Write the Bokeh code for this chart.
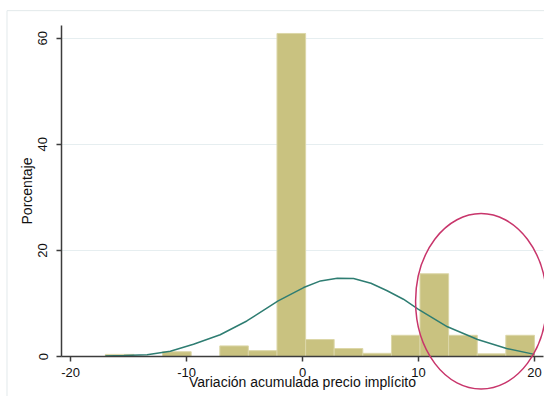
from bokeh.plotting import figure
from bokeh.models import Range1d
from bokeh.embed import file_html
from bokeh.resources import INLINE

bin_edges = [-17.0, -14.53, -12.07, -9.6, -7.13, -4.67, -2.2, 0.27,
             2.73, 5.2, 7.67, 10.13, 12.6, 15.07, 17.53, 20.0]
percent = [0.4, 0.0, 0.9, 0.0, 2.0, 1.1, 60.9, 3.2,
           1.5, 0.6, 4.0, 15.6, 4.0, 0.5, 4.0]

# normal density overlay
curve_x = [-17.0, -15.4, -13.4, -11.4, -9.4, -7.1, -4.8, -2.1, 0.1, 1.55,
           3.0, 4.4, 5.9, 7.3, 8.7, 10.0, 12.5, 15.1, 17.6, 20.0]
curve_y = [0.1, 0.2, 0.35, 1.0, 2.3, 4.1, 6.7, 10.5, 13.0, 14.25,
           14.76, 14.7, 13.8, 12.4, 10.8, 8.9, 5.6, 3.2, 1.5, 0.4]

# hand-drawn highlight ellipse (data units)
highlight_x = 15.4
highlight_y = 10.4
highlight_w = 11.3
highlight_h = 33.1

x_ticks = [-20, -10, 0, 10, 20]
y_ticks = [0, 20, 40, 60]

x_lo, x_hi = -20.78, 20.78
y_lo, y_hi = 0, 62.4

p = figure(width=544, height=396,
           x_range=Range1d(x_lo, x_hi), y_range=Range1d(y_lo, y_hi),
           output_backend="svg", toolbar_location=None,
           min_border_left=61, min_border_right=1,
           min_border_top=25, min_border_bottom=40)
p.outline_line_color = None

# faint graph-region border (Stata style), partly off the canvas
frame = p.quad(left=x_lo - 4.7, right=x_hi + 10, top=y_hi + 2.8, bottom=y_lo - 12,
               fill_alpha=0, line_color="#e2e9eb", line_width=1)
frame.level = "overlay"

p.quad(left=bin_edges[:-1], right=bin_edges[1:], bottom=0, top=percent,
       fill_color="#c9c280", line_color="#dcd7a8", line_width=1)
p.line(curve_x, curve_y, line_color="#2e7d72", line_width=1.5)
ring = p.ellipse(x=highlight_x, y=highlight_y, width=highlight_w,
                 height=highlight_h, fill_alpha=0,
                 line_color="#c8356b", line_width=1.5)
ring.level = "overlay"

p.xgrid.visible = False
p.ygrid.ticker = y_ticks
p.ygrid.grid_line_color = "#e6eef0"

for ax in (p.xaxis[0], p.yaxis[0]):
    ax.axis_line_color = "#3c3c3c"
    ax.axis_line_width = 1.5
    ax.major_tick_line_color = "#3c3c3c"
    ax.major_tick_line_width = 1.5
    ax.major_tick_out = 5
    ax.major_tick_in = 0
    ax.minor_tick_line_color = None
    ax.major_label_text_font = "Liberation Sans"
    ax.major_label_text_font_size = "13px"
    ax.major_label_text_color = "#111111"
    ax.axis_label_text_font = "Liberation Sans"
    ax.axis_label_text_font_size = "14px"
    ax.axis_label_text_font_style = "normal"
    ax.axis_label_text_color = "#111111"

p.xaxis.ticker = x_ticks
p.xaxis.major_label_overrides = {t: str(t) for t in x_ticks}
p.xaxis.axis_label = "Variación acumulada precio implícito"
p.xaxis.major_label_standoff = 6
p.xaxis.axis_label_standoff = -6

p.yaxis.ticker = y_ticks
p.yaxis.axis_label = "Porcentaje"
p.yaxis.major_label_orientation = "vertical"
p.yaxis.major_label_standoff = 9
p.yaxis.axis_label_standoff = 1

open("out.html", "w").write(file_html(p, INLINE))
